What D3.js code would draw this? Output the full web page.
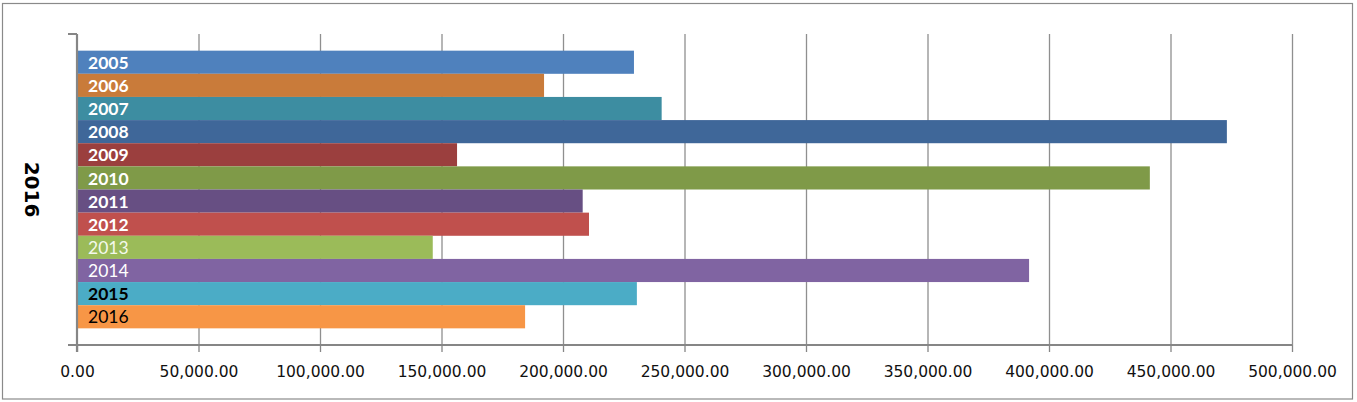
<!DOCTYPE html>
<html><head><meta charset="utf-8">
<script src="https://cdn.jsdelivr.net/npm/d3@7"></script>
<style>
html,body{margin:0;padding:0;background:#fff;}
svg{display:block;}
</style></head>
<body>
<svg id="chart" width="1357" height="402"></svg>
<script>
// ---- data ----
const category = ["2016"];
const seriesNames = ["2005","2006","2007","2008","2009","2010","2011","2012","2013","2014","2015","2016"];
const seriesValues = [229200, 192200, 240600, 473200, 156400, 441500, 208100, 210700, 146400, 391800, 230400, 184400];
const xTickValues = [0, 50000, 100000, 150000, 200000, 250000, 300000, 350000, 400000, 450000, 500000];

// ---- styles (kept apart from data) ----
const seriesColors = ["#4F81BD","#C97B3A","#3D8DA1","#3F6799","#9B3F3E","#7F9A48","#674F83","#C0504D","#9BBB59","#8064A2","#4BACC6","#F79646"];
const labelFill   = ["#fff","#fff","#fff","#fff","#fff","#fff","#fff","#fff","#f4f9ec","#fff","#000","#000"];
const labelWeight = ["bold","bold","bold","bold","bold","bold","bold","bold","normal","normal","bold","normal"];

const svg = d3.select("#chart");
const pLeft = 77, pRight = 1292, pTop = 34, pBottom = 345;

svg.append("rect").attr("x",2.5).attr("y",3.5).attr("width",1350).attr("height",395.5)
  .attr("fill","#fff").attr("stroke","#8a8a8a").attr("stroke-width",1.2);

const x = d3.scaleLinear().domain([0,500000]).range([pLeft,pRight]);
const y0 = d3.scaleBand().domain(category).range([pTop,pBottom]).paddingInner(0).paddingOuter(0.06);
const y1 = d3.scaleBand().domain(seriesNames).range([0,y0.bandwidth()]);

// gridlines
const grid = svg.append("g").attr("transform",`translate(0,${pBottom})`)
  .call(d3.axisBottom(x).tickValues(xTickValues.slice(1)).tickSize(-(pBottom-pTop)).tickFormat(""));
grid.select(".domain").remove();
grid.selectAll("line").attr("stroke","#8f8f8f").attr("stroke-width",1.3);

// bars
const g = svg.append("g");
const rows = seriesNames.map((n,i)=>({name:n, value:seriesValues[i], i}));
g.selectAll("rect.bar").data(rows).join("rect").attr("class","bar")
  .attr("x",x(0)).attr("y",d=>y0(category[0])+y1(d.name))
  .attr("width",d=>x(d.value)-x(0)).attr("height",y1.bandwidth())
  .attr("fill",d=>seriesColors[d.i]);

g.selectAll("text.lbl").data(rows).join("text").attr("class","lbl")
  .attr("x",x(0)+11).attr("y",d=>y0(category[0])+y1(d.name)+y1.bandwidth()/2)
  .attr("dy","0.38em")
  .attr("font-family","Lato, 'Open Sans', sans-serif").attr("font-size",17.5)
  .attr("font-weight",d=>labelWeight[d.i]).attr("fill",d=>labelFill[d.i])
  .text(d=>d.name);

// x axis
const xa = svg.append("g").attr("transform",`translate(0,${pBottom})`)
  .call(d3.axisBottom(x).tickValues(xTickValues).tickSize(7).tickPadding(14).tickFormat(d3.format(",.2f")));
xa.select(".domain").remove();
xa.selectAll("line").attr("stroke","#868686").attr("stroke-width",1.3);
xa.selectAll("text").attr("font-family","'DejaVu Sans', sans-serif").attr("font-size",15.5).attr("fill","#111");
svg.append("line").attr("x1",pLeft-9).attr("x2",pRight).attr("y1",pBottom).attr("y2",pBottom)
  .attr("stroke","#868686").attr("stroke-width",2);

// y axis (category)
svg.append("line").attr("x1",pLeft).attr("x2",pLeft).attr("y1",pTop).attr("y2",pBottom+7)
  .attr("stroke","#868686").attr("stroke-width",2.2);
svg.append("line").attr("x1",pLeft-9).attr("x2",pLeft).attr("y1",pTop).attr("y2",pTop)
  .attr("stroke","#868686").attr("stroke-width",2);
svg.append("text").attr("transform",`translate(25,${y0(category[0])+y0.bandwidth()/2}) rotate(90)`)
  .attr("text-anchor","middle").attr("font-family","'DejaVu Sans', sans-serif")
  .attr("font-weight","bold").attr("font-size",20).attr("fill","#000")
  .text(category[0]);
</script>
</body></html>
